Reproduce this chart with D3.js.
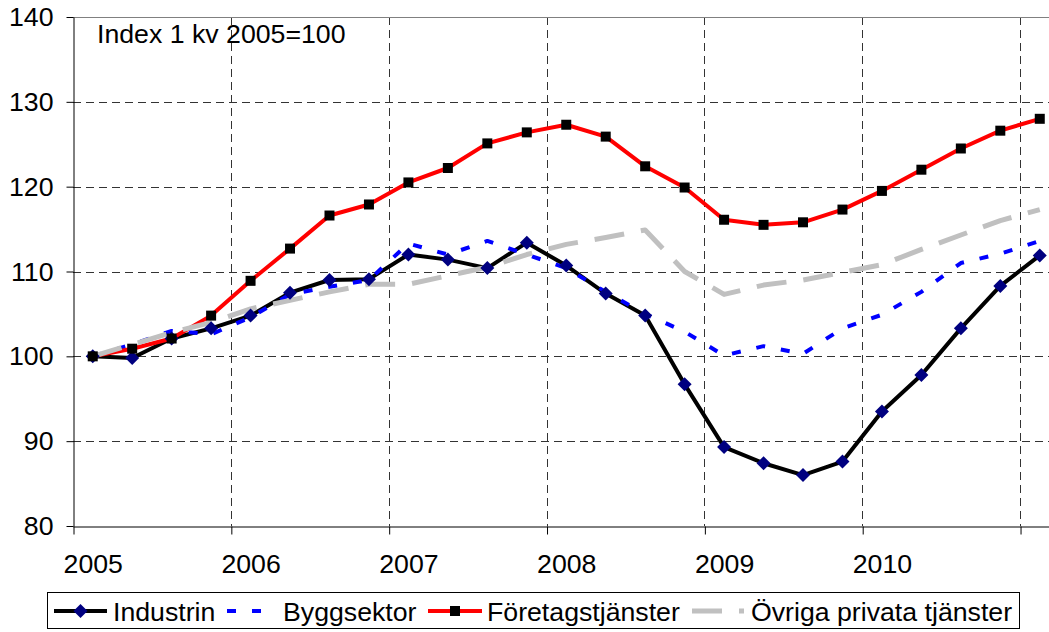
<!DOCTYPE html>
<html>
<head>
<meta charset="utf-8">
<script src="https://cdn.jsdelivr.net/npm/d3@7"></script>
<style>
  body { margin: 0; background: #fff; }
  svg text { font-family: "Liberation Sans", Arial, sans-serif; fill: #000; }
</style>
</head>
<body>
<script>
const width = 1049;
const height = 632;
const fontSize = "26.7px";

// kvartal 2005K1 .. 2011K1
const quarters = d3.range(25).map(i => (2005 + Math.floor(i / 4)) + "K" + (i % 4 + 1));
const yearLabels = ["2005", "2006", "2007", "2008", "2009", "2010"];
const yTicks = [80, 90, 100, 110, 120, 130, 140];

const industrin = [100, 99.8, 102.1, 103.3, 104.8, 107.5, 109.0, 109.1, 112.0, 111.4, 110.4, 113.4,
    110.7, 107.4, 104.8, 96.7, 89.3, 87.4, 86.0, 87.6, 93.5, 97.8, 103.3, 108.3, 111.9];
const bygg = [100, 101.4, 103.0, 102.6, 104.6, 107.3, 108.2, 109.0, 113.3, 112.0, 113.6, 112.0,
    110.4, 107.6, 105.0, 102.9, 100.1, 101.2, 100.3, 103.3, 104.9, 107.6, 111.0, 112.1, 113.6];
const foretag = [100, 100.9, 102.1, 104.8, 108.9, 112.7, 116.6, 117.9, 120.5, 122.2, 125.1, 126.4,
    127.3, 125.9, 122.4, 119.9, 116.1, 115.5, 115.8, 117.3, 119.5, 122.0, 124.5, 126.6, 128.0];
const ovriga = [100, 101.4, 102.8, 104.0, 105.6, 106.6, 107.6, 108.5, 108.5, 109.5, 110.5, 112.0,
    113.2, 114.0, 114.9, 110.0, 107.3, 108.4, 109.0, 109.9, 110.8, 112.6, 114.3, 116.0, 117.3];

const series = [
    {name: "Industrin", values: industrin, color: "#000", width: 4, dash: null, marker: "diamond"},
    {name: "Byggsektor", values: bygg, color: "#0000ff", width: 4, dash: "9,16", marker: null},
    {name: "Företagstjänster", values: foretag, color: "#ff0000", width: 4, dash: null, marker: "square"},
    {name: "Övriga privata tjänster", values: ovriga, color: "#c0c0c0", width: 5, dash: "30,17", marker: null}
];

const svg = d3.select("body")
    .append("svg")
    .attr("width", width)
    .attr("height", height);

// category axis: one unit per quarter, plot area runs past the right edge
const x = d3.scaleLinear().domain([0, quarters.length]).range([73, 1059.5]);
const y = d3.scaleLinear().domain([80, 140]).range([526, 17]);
const cx = i => x(i + 0.5);

// horizontal grid
svg.append("g")
    .selectAll("line")
    .data(yTicks.filter(v => v > 80 && v < 140))
    .enter()
    .append("line")
    .attr("x1", x(0)).attr("x2", width)
    .attr("y1", d => Math.round(y(d)) + 0.5).attr("y2", d => Math.round(y(d)) + 0.5)
    .attr("stroke", "#333")
    .attr("stroke-dasharray", "8,5");

// vertical grid at year boundaries
svg.append("g")
    .selectAll("line")
    .data(d3.range(4, quarters.length, 4))
    .enter()
    .append("line")
    .attr("x1", d => Math.round(x(d)) + 0.5).attr("x2", d => Math.round(x(d)) + 0.5)
    .attr("y1", y(140)).attr("y2", y(80))
    .attr("stroke", "#333")
    .attr("stroke-dasharray", "8,5");

// top border of plot area
svg.append("line")
    .attr("x1", x(0)).attr("x2", width)
    .attr("y1", Math.round(y(140)) + 0.5).attr("y2", Math.round(y(140)) + 0.5)
    .attr("stroke", "#808080");

// y axis
const yAxis = svg.append("g")
    .attr("transform", "translate(73.5,0)")
    .call(d3.axisLeft(y).tickValues(yTicks).tickSize(7).tickPadding(13).tickSizeOuter(0));
yAxis.selectAll("text").style("font-size", fontSize);

// x axis: tick marks at year boundaries
const xAxis = svg.append("g")
    .attr("transform", "translate(0,526.5)")
    .call(d3.axisBottom(x).tickValues(d3.range(0, quarters.length, 4)).tickSize(8).tickFormat("").tickSizeOuter(0));
xAxis.selectAll(".tick line").attr("transform", "translate(0.5,0)");

// x axis labels at first quarter of each year
const xLabels = svg.append("g")
    .attr("transform", "translate(0,526)")
    .call(d3.axisBottom(x)
        .tickValues(yearLabels.map((d, i) => i * 4 + 0.5))
        .tickFormat((d, i) => yearLabels[i])
        .tickSize(0).tickPadding(28));
xLabels.select(".domain").remove();
xLabels.selectAll("text").style("font-size", fontSize);

svg.selectAll(".tick text").attr("fill", "#000");
svg.selectAll(".domain, .tick line").attr("stroke", "#000");

// lines
const line = d3.line()
    .x((d, i) => cx(i))
    .y(d => y(d));

svg.append("g")
    .selectAll("path")
    .data(series)
    .enter()
    .append("path")
    .attr("d", d => line(d.values))
    .attr("fill", "none")
    .attr("stroke", d => d.color)
    .attr("stroke-width", d => d.width)
    .attr("stroke-dasharray", d => d.dash)
    .attr("stroke-linejoin", "round");

// markers
const diamond = "M0,-7L7,0L0,7L-7,0Z";
const square = "M-5,-5H5V5H-5Z";

svg.append("g")
    .selectAll("path")
    .data(industrin)
    .enter()
    .append("path")
    .attr("d", diamond)
    .attr("transform", (d, i) => `translate(${cx(i)},${y(d)})`)
    .attr("fill", "#000080");

svg.append("g")
    .selectAll("path")
    .data(foretag)
    .enter()
    .append("path")
    .attr("d", square)
    .attr("transform", (d, i) => `translate(${cx(i)},${y(d)})`)
    .attr("fill", "#000");

// note
svg.append("text")
    .attr("x", 97)
    .attr("y", 43)
    .style("font-size", fontSize)
    .text("Index 1 kv 2005=100");

// legend
const legend = svg.append("g");
legend.append("rect")
    .attr("x", 47.5).attr("y", 592.5)
    .attr("width", 972).attr("height", 36)
    .attr("fill", "#fff")
    .attr("stroke", "#000");

const legendItems = [
    {s: series[0], x1: 54, x2: 107, tx: 113},
    {s: series[1], x1: 227, x2: 270, tx: 283},
    {s: series[2], x1: 428, x2: 482, tx: 487},
    {s: series[3], x1: 692, x2: 744, tx: 751}
];
const ly = 611;

legendItems.forEach(function(d) {
    legend.append("line")
        .attr("x1", d.x1).attr("x2", d.x2)
        .attr("y1", ly).attr("y2", ly)
        .attr("stroke", d.s.color)
        .attr("stroke-width", d.s.width)
        .attr("stroke-dasharray", d.s.dash);
    if (d.s.marker) {
        legend.append("path")
            .attr("d", d.s.marker == "diamond" ? diamond : square)
            .attr("transform", `translate(${(d.x1 + d.x2) / 2},${ly})`)
            .attr("fill", d.s.marker == "diamond" ? "#000080" : "#000");
    }
    legend.append("text")
        .attr("x", d.tx)
        .attr("y", 621)
        .style("font-size", fontSize)
        .text(d.s.name);
});
</script>
</body>
</html>
